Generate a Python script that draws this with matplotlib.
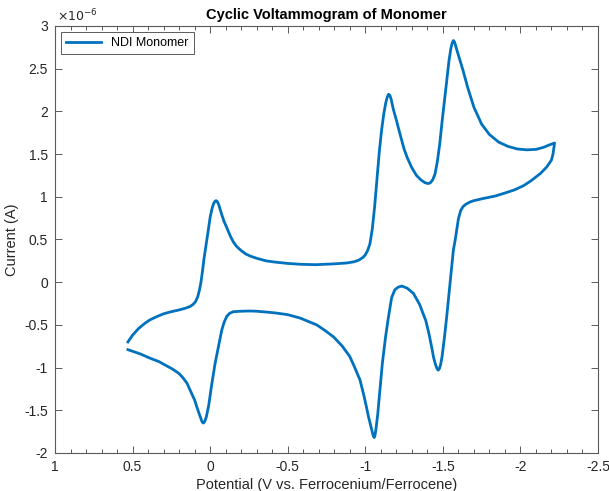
import numpy as np
import matplotlib
matplotlib.use('Agg')
import matplotlib.pyplot as plt
from matplotlib.ticker import FuncFormatter, MultipleLocator

plt.rcParams['font.family'] = ['Liberation Sans', 'DejaVu Sans']
plt.rcParams['axes.unicode_minus'] = False

# forward scan (towards negative potential), current in microamps
fwd_E = [0.53, 0.50, 0.46, 0.42, 0.387, 0.34, 0.30, 0.25, 0.20, 0.16, 0.13,
         0.11, 0.095, 0.08, 0.07, 0.06, 0.05, 0.04, 0.025, 0.012, 0.0, -0.012,
         -0.022, -0.03, -0.038, -0.046, -0.055, -0.065, -0.075, -0.09, -0.107,
         -0.13, -0.15, -0.17, -0.20, -0.23, -0.26, -0.30, -0.36, -0.42, -0.50,
         -0.58, -0.68, -0.80, -0.88, -0.93, -0.96, -0.985, -1.0, -1.015, -1.03,
         -1.045, -1.06, -1.075, -1.09, -1.105, -1.12, -1.132, -1.142, -1.15,
         -1.158, -1.167, -1.18, -1.20, -1.22, -1.25, -1.27, -1.30, -1.33, -1.36,
         -1.385, -1.405, -1.42, -1.435, -1.45, -1.465, -1.48, -1.495, -1.51,
         -1.525, -1.54, -1.552, -1.56, -1.568, -1.576, -1.59, -1.61, -1.63,
         -1.66, -1.70, -1.75, -1.80, -1.86, -1.92, -1.98, -2.04, -2.10, -2.15,
         -2.19, -2.22]
fwd_I = [-0.70, -0.62, -0.54, -0.48, -0.44, -0.40, -0.37, -0.345, -0.325,
         -0.305, -0.285, -0.26, -0.23, -0.17, -0.10, -0.01, 0.12, 0.27, 0.45,
         0.61, 0.76, 0.86, 0.92, 0.945, 0.955, 0.945, 0.91, 0.85, 0.79, 0.71,
         0.64, 0.54, 0.47, 0.42, 0.37, 0.33, 0.305, 0.28, 0.25, 0.235, 0.22,
         0.21, 0.205, 0.215, 0.225, 0.24, 0.26, 0.29, 0.32, 0.37, 0.45, 0.62,
         0.88, 1.20, 1.52, 1.78, 1.98, 2.10, 2.17, 2.20, 2.19, 2.14, 2.03, 1.90,
         1.76, 1.56, 1.46, 1.34, 1.25, 1.195, 1.165, 1.155, 1.165, 1.20, 1.27,
         1.42, 1.62, 1.88, 2.12, 2.37, 2.60, 2.74, 2.80, 2.83, 2.81, 2.72, 2.60,
         2.48, 2.28, 2.05, 1.85, 1.73, 1.64, 1.59, 1.56, 1.55, 1.555, 1.58,
         1.61, 1.63]

# reverse scan back towards positive potential
rev_E = [-2.21, -2.20, -2.17, -2.13, -2.07, -2.02, -1.96, -1.91, -1.84, -1.76,
         -1.70, -1.676, -1.65, -1.63, -1.615, -1.60, -1.59, -1.58, -1.568,
         -1.555, -1.547, -1.535, -1.525, -1.51, -1.495, -1.485, -1.477, -1.47,
         -1.462, -1.452, -1.44, -1.43, -1.41, -1.39, -1.375, -1.35, -1.31,
         -1.27, -1.235, -1.21, -1.19, -1.17, -1.15, -1.13, -1.11, -1.095, -1.08,
         -1.068, -1.062, -1.057, -1.05, -1.035, -1.02, -1.005, -0.99, -0.966,
         -0.93, -0.90, -0.85, -0.795, -0.74, -0.687, -0.64, -0.58, -0.50, -0.42,
         -0.365, -0.30, -0.257, -0.20, -0.15, -0.125, -0.107, -0.09, -0.075,
         -0.055, -0.032, -0.01, 0.01, 0.025, 0.036, 0.044, 0.052, 0.065, 0.086,
         0.10, 0.12, 0.15, 0.175, 0.20, 0.24, 0.28, 0.33, 0.387, 0.45, 0.53]
rev_I = [1.50, 1.43, 1.35, 1.275, 1.19, 1.13, 1.08, 1.05, 1.01, 0.98, 0.955,
         0.94, 0.915, 0.885, 0.84, 0.74, 0.62, 0.50, 0.38, 0.15, 0.0, -0.22,
         -0.40, -0.65, -0.87, -0.97, -1.015, -1.03, -1.01, -0.96, -0.88, -0.78,
         -0.60, -0.45, -0.38, -0.26, -0.13, -0.07, -0.045, -0.06, -0.09, -0.18,
         -0.40, -0.65, -0.95, -1.25, -1.55, -1.73, -1.80, -1.82, -1.79, -1.68,
         -1.57, -1.44, -1.32, -1.145, -0.99, -0.87, -0.745, -0.64, -0.565,
         -0.50, -0.465, -0.42, -0.38, -0.36, -0.35, -0.34, -0.337, -0.34,
         -0.345, -0.365, -0.40, -0.47, -0.56, -0.74, -0.95, -1.20, -1.45,
         -1.58, -1.635, -1.65, -1.635, -1.57, -1.46, -1.38, -1.30, -1.18, -1.12,
         -1.07, -1.02, -0.98, -0.93, -0.89, -0.84, -0.79]

E = np.array(fwd_E + rev_E)
I = np.array(fwd_I + rev_I) * 1e-6

fig = plt.figure(figsize=(6.09, 4.91), dpi=100)
ax = fig.add_axes([55 / 609, 38 / 491, 543 / 609, 427 / 491])

ax.plot(E, I, color='#0072BD', lw=2.0, label='NDI Monomer',
        solid_joinstyle='round')

ax.set_xlim(1, -2.5)
ax.set_ylim(-2e-6, 3e-6)
ax.xaxis.set_major_locator(MultipleLocator(0.5))
ax.xaxis.set_minor_locator(MultipleLocator(0.1))
ax.yaxis.set_major_locator(MultipleLocator(0.5e-6))
ax.xaxis.set_major_formatter(FuncFormatter(lambda v, p: '%g' % round(v, 2)))
ax.yaxis.set_major_formatter(FuncFormatter(lambda v, p: '%g' % round(v * 1e6, 2)))

axis_col = '#5a5a5a'
txt_col = '#262626'
for s in ax.spines.values():
    s.set_color(axis_col)
    s.set_linewidth(0.8)
ax.tick_params(which='both', direction='in', top=True, right=True,
               colors=axis_col, labelcolor=txt_col, labelsize=10, width=0.7)
ax.tick_params(which='major', length=5, pad=5)
ax.tick_params(which='minor', length=3)
ax.tick_params(axis='y', which='minor', left=False, right=False)

ax.text(0.004, 1.004, r'$\times10^{-6}$', transform=ax.transAxes,
        fontsize=9, color=txt_col, ha='left', va='bottom')

ax.set_title('Cyclic Voltammogram of Monomer', fontsize=10.5, fontweight='bold',
             color='black', pad=5)
ax.set_xlabel('Potential (V vs. Ferrocenium/Ferrocene)', fontsize=10.5,
              color=txt_col, labelpad=3)
ax.set_ylabel('Current (A)', fontsize=10.5, color=txt_col, labelpad=4)

leg = ax.legend(loc='upper left', fancybox=False, framealpha=1, fontsize=9,
                edgecolor=axis_col, borderaxespad=0.5, handlelength=2.8,
                borderpad=0.4)
leg.get_frame().set_linewidth(0.7)

fig.savefig('out.png', dpi=100)
